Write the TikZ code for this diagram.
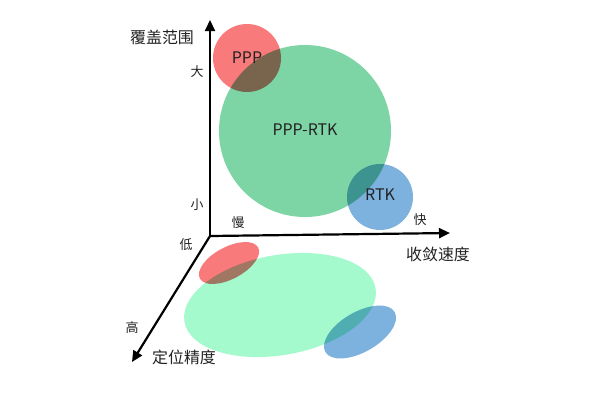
\documentclass[tikz,border=0pt]{standalone}
\usepackage{fontspec}
\setmainfont{Noto Sans CJK SC}
\usetikzlibrary{arrows.meta}
\definecolor{cred}{RGB}{248,122,122}
\definecolor{cgreen}{RGB}{125,212,165}
\definecolor{cblue}{RGB}{125,178,222}
\definecolor{cgreenl}{RGB}{165,250,205}
\definecolor{ctext}{RGB}{34,34,34}
\begin{document}
\begin{tikzpicture}[x=1bp,y=-1bp,
  axis/.style={line width=2.2bp,-{Triangle[length=11bp,width=10bp]}},
  blob/.style={draw=none,blend mode=multiply},
  lab/.style={text=ctext,font=\fontsize{13}{13}\selectfont,inner sep=0pt},
  title/.style={text=ctext,font=\fontsize{16}{16}\selectfont,inner sep=0pt},
  blabel/.style={text=ctext,font=\fontsize{16}{16}\selectfont,inner sep=0pt}]
\useasboundingbox (0,0) rectangle (600,400);
\fill[white] (0,0) rectangle (600,400);
% ground projections
\fill[blob,cgreenl,rotate around={10:(280,305)}] (280,305) ellipse (97bp and 50bp);
\fill[blob,cred,rotate around={28:(229,263)}] (229,263) ellipse (33bp and 16bp);
\fill[blob,cblue,rotate around={30:(360,332)}] (360,332) ellipse (40bp and 20bp);
% circles
\fill[blob,cred] (247,58) circle (34bp);
\fill[blob,cgreen] (305,131) circle (86bp);
\fill[blob,cblue] (380,197) circle (33bp);
\node[blabel] (ppp) at (247,58) {PPP};
\node[blabel] (ppprtk) at (305,130) {PPP-RTK};
\node[blabel] (rtk) at (380,195) {RTK};
% axes
\coordinate (o) at (210,236);
\coordinate (ytip) at (210,20);
\coordinate (xtip) at (450,233);
\coordinate (ztip) at (132,362);
\draw[axis] (o) -- (ytip);
\draw[axis] (o) -- (xtip);
\draw[axis] (o) -- (ztip);
% labels
\node[title] (ylab) at (162,37) {覆盖范围};
\node[lab] (big) at (197,72) {大};
\node[lab] (small) at (197,205) {小};
\node[lab] (slow) at (238,223) {慢};
\node[lab] (fast) at (420,220) {快};
\node[title] (xlab) at (438,254) {收敛速度};
\node[lab] (low) at (186,245) {低};
\node[lab] (high) at (132,328) {高};
\node[title] (zlab) at (184,357) {定位精度};
\end{tikzpicture}
\end{document}
